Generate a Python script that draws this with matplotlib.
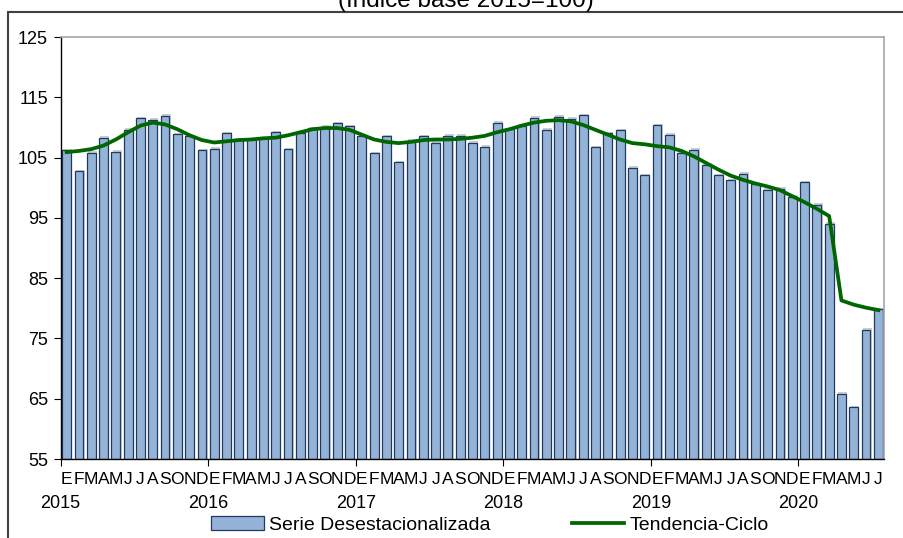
import matplotlib
matplotlib.use("Agg")
import matplotlib.pyplot as plt
import matplotlib.transforms as mtransforms
from matplotlib.patches import Patch, Rectangle
from matplotlib.lines import Line2D
import numpy as np

plt.rcParams['font.family'] = ['Liberation Sans', 'DejaVu Sans']

# monthly index, Jan 2015 - Jul 2020
serie = [106.2, 102.7, 105.8, 108.3, 106.0, 109.6, 111.5, 111.3, 111.9, 108.9, 108.5, 106.2,
         106.5, 109.0, 108.0, 108.0, 108.2, 109.2, 106.4, 109.0, 109.9, 110.1, 110.7, 110.2,
         108.5, 105.7, 108.5, 104.2, 107.8, 108.5, 107.5, 108.6, 108.6, 107.5, 106.8, 110.8,
         109.7, 110.3, 111.6, 109.6, 111.8, 111.4, 112.0, 106.7, 109.0, 109.5, 103.3, 102.1,
         110.4, 108.8, 105.8, 106.3, 103.8, 102.1, 101.2, 102.3, 100.6, 99.7, 99.8, 98.5,
         100.9, 97.2, 94.0, 65.8, 63.6, 76.4, 79.8]
tendencia = [105.9, 106.1, 106.4, 107.0, 108.0, 109.2, 110.3, 110.8, 110.5, 109.7, 108.7, 107.9,
             107.5, 107.7, 107.9, 108.0, 108.2, 108.3, 108.7, 109.2, 109.7, 109.9, 109.9, 109.6,
             108.8, 108.0, 107.6, 107.4, 107.6, 107.9, 108.0, 108.0, 108.1, 108.3, 108.6, 109.2,
             109.7, 110.3, 110.8, 111.1, 111.2, 111.0, 110.4, 109.6, 108.8, 108.0, 107.4, 107.2,
             106.9, 106.7, 106.1, 105.2, 104.1, 103.0, 102.0, 101.3, 100.7, 100.2, 99.6, 98.6,
             97.6, 96.5, 95.3, 81.3, 80.6, 80.1, 79.7]
meses = ['E', 'F', 'M', 'A', 'M', 'J', 'J', 'A', 'S', 'O', 'N', 'D']
anios = ['2015', '2016', '2017', '2018', '2019', '2020']
yticks = [55, 65, 75, 85, 95, 105, 115, 125]

W, H = 904, 538
fig = plt.figure(figsize=(W / 100, H / 100), dpi=100)
ax = fig.add_axes([60.5 / W, 1 - 459 / H, 824 / W, 422 / H])

x = np.arange(len(serie))
vals = np.array(serie)
# light shadow behind each bar
ax.bar(x + 0.1, vals - 55 + 0.25, bottom=55, width=0.72, color='#C9CED6',
       linewidth=0, zorder=1)
ax.bar(x, vals - 55, bottom=55, width=0.72, color='#95B3D7',
       edgecolor='#1F3A60', linewidth=0.9, zorder=2)
ax.plot(x, tendencia, color='#006600', linewidth=2.7, zorder=3)

ax.set_xlim(-0.5, len(serie) - 0.5)
ax.set_ylim(55, 125)
ax.set_yticks(yticks)
ax.tick_params(axis='y', direction='out', length=5, labelsize=13, pad=4)

# year boundary ticks
ax.set_xticks(np.arange(0, len(serie), 12) - 0.5)
ax.set_xticklabels([])
ax.tick_params(axis='x', direction='out', length=5)

for s in ['top', 'right']:
    ax.spines[s].set_color('#A6A6A6')
    ax.spines[s].set_linewidth(1.2)
for s in ['left', 'bottom']:
    ax.spines[s].set_color('black')
    ax.spines[s].set_linewidth(1.0)

trans = mtransforms.blended_transform_factory(ax.transData, ax.transAxes)
for i in range(len(serie)):
    ax.text(i, -21 / 422, meses[i % 12], transform=trans, ha='center', va='center',
            fontsize=12.5)
for k, a in enumerate(anios):
    ax.text(12 * k - 0.5, -44 / 422, a, transform=trans, ha='center', va='center',
            fontsize=13)

# title, mostly cut off by the top of the picture (as in the source)
fig.text(466 / W, 1 - 7 / H, '(Índice base 2015=100)', ha='center', va='baseline',
         fontsize=17.5)

# outer chart frame
fig.add_artist(Rectangle((8 / W, -0.5), 2, 1.5 - 11.5 / H, transform=fig.transFigure,
                         fill=False, edgecolor='#404040', linewidth=1.5))

handles = [Patch(facecolor='#95B3D7', edgecolor='#1F3A60', linewidth=0.9),
           Line2D([0], [0], color='#006600', linewidth=2.7)]
fig.legend(handles, ['Serie Desestacionalizada', 'Tendencia-Ciclo'], loc='center',
           bbox_to_anchor=(490 / W, 1 - 525 / H), ncol=2, frameon=False, fontsize=14,
           handlelength=2.7, handletextpad=0.25, columnspacing=4.2, borderpad=0)

fig.savefig('out.png', dpi=100)
